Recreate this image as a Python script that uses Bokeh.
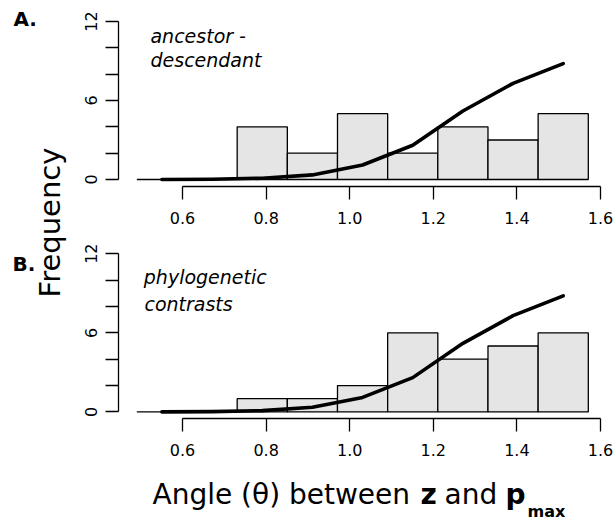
import math
from bokeh.plotting import figure
from bokeh.layouts import row, column
from bokeh.models import Range1d, FixedTicker, Label
from bokeh.embed import file_html
from bokeh.resources import INLINE

# ---- data ----
bin_left = [0.4908, 0.6108, 0.7308, 0.8508, 0.9708, 1.0908, 1.2108, 1.3308, 1.4508]
bin_right = [0.6108, 0.7308, 0.8508, 0.9708, 1.0908, 1.2108, 1.3308, 1.4508, 1.5708]
counts_a = [0, 0, 4, 2, 5, 2, 4, 3, 5]
counts_b = [0, 0, 1, 1, 2, 6, 4, 5, 6]
curve_x = [0.5508, 0.6708, 0.7908, 0.9108, 1.0308, 1.1508, 1.2708, 1.3908, 1.5108]
curve_y = [0.0, 0.02, 0.1, 0.35, 1.1, 2.6, 5.2, 7.3, 8.8]
x_ticks = [0.6, 0.8, 1.0, 1.2, 1.4, 1.6]
x_tick_labels = ["0.6", "0.8", "1.0", "1.2", "1.4", "1.6"]
y_ticks = [0, 2, 4, 6, 8, 10, 12]
y_tick_labels = ["0", "", "", "6", "", "", "12"]

FONT = "DejaVu Sans"
GRAY = "#E5E5E5"


def lab(x, y, text, size, style="normal", angle=0.0, align="left"):
    return Label(x=x, y=y, text=text, text_font=FONT, text_font_size=size,
                 text_font_style=style, text_color="black", angle=angle,
                 text_align=align, text_baseline="alphabetic")


def panel(height, y_start, y_end, b_top, b_bottom, counts, lines):
    p = figure(width=539, height=height, output_backend="svg", toolbar_location=None,
               title=None,
               x_range=Range1d(0.4469, 1.6239), y_range=Range1d(y_start, y_end),
               min_border_left=43, min_border_right=4,
               min_border_top=b_top, min_border_bottom=b_bottom)
    p.grid.visible = False
    p.outline_line_color = None
    p.background_fill_color = None
    p.border_fill_color = None

    p.quad(left=bin_left, right=bin_right, bottom=0, top=counts,
           fill_color=GRAY, line_color="black", line_width=1.3)
    p.line(curve_x, curve_y, line_color="black", line_width=3.6,
           line_join="round", line_cap="round")

    xa = p.xaxis[0]
    xa.ticker = FixedTicker(ticks=x_ticks, minor_ticks=[])
    xa.bounds = (x_ticks[0], x_ticks[-1])
    xa.major_label_overrides = dict(zip(x_ticks, x_tick_labels))
    ya = p.yaxis[0]
    ya.ticker = FixedTicker(ticks=y_ticks, minor_ticks=[])
    ya.bounds = (y_ticks[0], y_ticks[-1])
    ya.major_label_overrides = dict(zip(y_ticks, y_tick_labels))
    ya.major_label_orientation = "vertical"
    for ax in (xa, ya):
        ax.axis_line_width = 1.3
        ax.major_tick_line_width = 1.3
        ax.major_tick_out = 13
        ax.major_tick_in = 0
        ax.minor_tick_out = 0
        ax.minor_tick_in = 0
        ax.major_label_text_font = FONT
        ax.major_label_text_font_size = "16px"
        ax.major_label_text_color = "black"
    xa.major_label_standoff = 12
    ya.major_label_standoff = 8

    for (tx, ty, txt) in lines:
        p.add_layout(lab(tx, ty, txt, "19px", "italic"))
    return p


top = panel(236, -0.5316, 12.835, 10, 50, counts_a,
            [(0.5234, 10.92, "ancestor -"), (0.5234, 9.09, "descendant")])
bot = panel(234, -0.5, 13.0, 4, 52, counts_b,
            [(0.5074, 10.20, "phylogenetic"), (0.5090, 8.22, "contrasts")])

# left strip: panel tags and shared y-axis title
left = figure(width=75, height=470, output_backend="svg", toolbar_location=None, title=None,
              x_range=Range1d(0, 75), y_range=Range1d(0, 470),
              x_axis_type=None, y_axis_type=None, min_border=0)
left.grid.visible = False
left.outline_line_color = None
left.add_layout(lab(13, 451.5, "A.", "20px", "bold"))
left.add_layout(lab(12, 206.5, "B.", "20px", "bold"))
left.add_layout(lab(49, 248, "Frequency", "29px", angle=math.pi / 2, align="center"))

# bottom strip: x-axis title with bold symbols and subscript
title = figure(width=614, height=52, output_backend="svg", toolbar_location=None, title=None,
               x_range=Range1d(0, 614), y_range=Range1d(0, 52),
               x_axis_type=None, y_axis_type=None, min_border=0)
title.grid.visible = False
title.outline_line_color = None
pieces = [
    (152, 28.5, "Angle (θ) between", "normal", "28px"),
    (420, 28.5, "z", "bold", "28px"),
    (444, 28.5, "and", "normal", "28px"),
    (505, 28.5, "p", "bold", "28px"),
    (527, 11.5, "max", "bold", "16px"),
]
for (tx, ty, txt, style, size) in pieces:
    title.add_layout(lab(tx, ty, txt, size, style))

layout = column(row(left, column(top, bot)), title)

open("out.html", "w").write(file_html(layout, INLINE))
